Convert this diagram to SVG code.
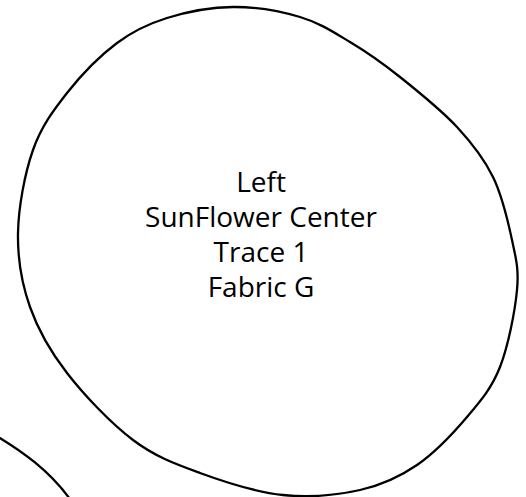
<svg xmlns="http://www.w3.org/2000/svg" width="526" height="497" viewBox="0 0 526 497">
<style>
.shape{fill:none;stroke:#000;stroke-width:2.3;stroke-linejoin:round}
.lbl{font-family:"Open Sans","Noto Sans","Liberation Sans",sans-serif;font-size:28px;fill:#000;text-anchor:middle}
</style>
<rect width="526" height="497" fill="#fff"/>
<g id="left-sunflower-center">
<path class="shape" d="M233,7 C255.2,6.8 280.5,11.2 300,17 C319.5,22.8 333.3,32 350,42 C366.7,52 382.2,62.8 400,77 C417.8,91.2 441.5,110.3 457,127 C472.5,143.7 483.8,158.2 493,177 C502.2,195.8 508,221.2 512,240 C516,258.8 519,268.8 517,290 C515,311.2 508.3,345.8 500,367 C491.7,388.2 480.8,400.7 467,417 C453.2,433.3 434.8,452.8 417,465 C399.2,477.2 382.3,485 360,490 C337.7,495 309.7,497.8 283,495 C256.3,492.2 225,482.2 200,473 C175,463.8 155.2,456.7 133,440 C110.8,423.3 84.2,395.2 67,373 C49.8,350.8 38.2,330.3 30,307 C21.8,283.7 17.5,259.2 18,233 C18.5,206.8 24.8,173.3 33,150 C41.2,126.7 53,110.8 67,93 C81,75.2 100.3,55.5 117,43 C133.7,30.5 147.7,24 167,18 C186.3,12 210.8,7.2 233,7 Z"/>
<text class="lbl" x="261" y="192">Left</text>
<text class="lbl" x="261" y="227">SunFlower Center</text>
<text class="lbl" x="261" y="262">Trace 1</text>
<text class="lbl" x="261" y="297">Fabric G</text>
</g>
<g id="partial-shape">
<path class="shape" d="M-5,435 C20,450 50,470 72,502"/>
</g>
</svg>
